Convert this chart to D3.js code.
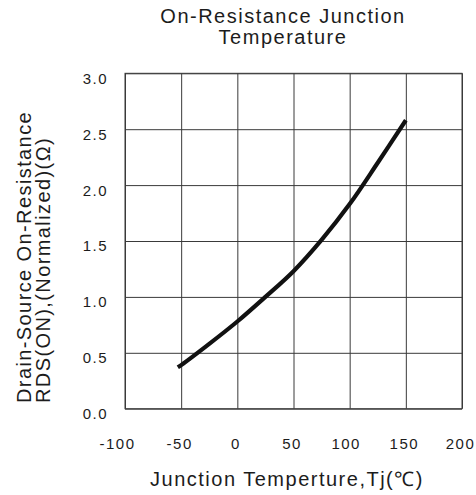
<!DOCTYPE html>
<html>
<head>
<meta charset="utf-8">
<script src="https://cdn.jsdelivr.net/npm/d3@7"></script>
<style>
  html, body { margin: 0; padding: 0; background: #fff; }
  svg { display: block; font-family: "Liberation Sans", Arial, sans-serif; }
</style>
</head>
<body>
<svg id="chart" width="476" height="495"></svg>
<script>
// Data
const temps = [-53, -50, -25, 0, 25, 50, 75, 100, 125, 150];
const rdsOn = [0.37, 0.39, 0.58, 0.78, 1.0, 1.23, 1.51, 1.83, 2.2, 2.58];
const xTicks = [-100, -50, 0, 50, 100, 150, 200];
const yTicks = [0, 0.5, 1.0, 1.5, 2.0, 2.5, 3.0];
const titleLines = ["On-Resistance Junction", "Temperature"];
const xTitle = "Junction Temperture,Tj(\u2103)";
const yTitleLines = ["Drain-Source On-Resistance", "RDS(ON),(Normalized)(\u03A9)"];

const svg = d3.select("#chart");
const margin = { left: 125, top: 73.3, right: 476 - 462, bottom: 495 - 408.7 };
const W = 476 - margin.left - margin.right;
const H = 495 - margin.top - margin.bottom;
const textColor = "#1c1c1c";
const gridColor = "#3a3a3a";

const x = d3.scaleLinear().domain([-100, 200]).range([0, W]);
const y = d3.scaleLinear().domain([0, 3]).range([H, 0]);

const g = svg.append("g").attr("transform", `translate(${margin.left},${margin.top})`);

// Y axis grid + labels
const yAxis = g.append("g")
  .call(d3.axisLeft(y).tickValues(yTicks).tickFormat(d3.format(".1f")).tickSize(-W).tickPadding(17));
yAxis.select(".domain").remove();
yAxis.selectAll("line").attr("stroke", gridColor).attr("stroke-width", 1);
yAxis.selectAll("text")
  .attr("dy", "0.66em")
  .attr("fill", textColor)
  .style("font-size", "15px")
  .style("letter-spacing", "1.5px");

// X axis grid + labels
const xAxis = g.append("g").attr("transform", `translate(0,${H})`)
  .call(d3.axisBottom(x).tickValues(xTicks).tickFormat(d => String(d)).tickSize(-H));
xAxis.select(".domain").remove();
xAxis.selectAll("line").attr("stroke", gridColor).attr("stroke-width", 1);
xAxis.selectAll("text")
  .attr("y", 29.5)
  .attr("dx", d => d === -100 ? -8 : (d === 100 ? -4 : -2))
  .attr("fill", textColor)
  .style("font-size", "15px")
  .style("letter-spacing", "1.5px");

// Frame
g.append("rect")
  .attr("x", x(-100)).attr("y", y(3))
  .attr("width", x(200) - x(-100)).attr("height", y(0) - y(3))
  .attr("fill", "none").attr("stroke", gridColor).attr("stroke-width", 1);

// Curve
const pts = temps.map((t, i) => [t, rdsOn[i]]);
g.append("path")
  .datum(pts)
  .attr("fill", "none")
  .attr("stroke", "#111")
  .attr("stroke-width", 4.2)
  .attr("stroke-linecap", "butt")
  .attr("d", d3.line().x(d => x(d[0])).y(d => y(d[1])).curve(d3.curveCatmullRom.alpha(0.5)));

// Title
svg.append("g").selectAll("text").data(titleLines).join("text")
  .attr("x", 283)
  .attr("y", (d, i) => 23.3 + i * 20.8)
  .attr("text-anchor", "middle")
  .attr("fill", textColor)
  .style("font-size", "20px")
  .style("letter-spacing", "1.5px")
  .text(d => d);

// X title
svg.append("text")
  .attr("x", 287)
  .attr("y", 486)
  .attr("text-anchor", "middle")
  .attr("fill", textColor)
  .style("font-size", "20px")
  .style("letter-spacing", "1.5px")
  .text(xTitle);

// Y title (rotated, two lines)
svg.append("g").selectAll("text").data(yTitleLines).join("text")
  .attr("transform", (d, i) => `translate(${31 + i * 19},403) rotate(-90)`)
  .attr("text-anchor", "start")
  .attr("fill", textColor)
  .style("font-size", "20px")
  .style("letter-spacing", "1.4px")
  .text(d => d);
</script>
</body>
</html>
